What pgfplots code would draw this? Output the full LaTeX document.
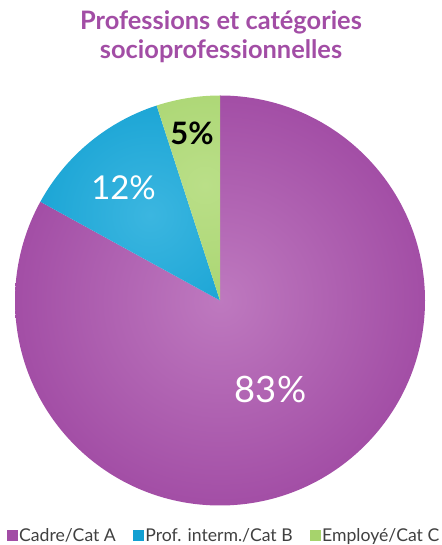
\documentclass[border=0pt]{standalone}
\usepackage{pgfplots}
\pgfplotsset{compat=1.18}
\usepackage{fontspec}
\setmainfont{Lato}
\definecolor{pur}{HTML}{A24DA5}
\definecolor{purL}{HTML}{BE79BF}
\definecolor{blu}{HTML}{12A0D2}
\definecolor{bluL}{HTML}{3BB6E0}
\definecolor{grn}{HTML}{A6D36C}
\definecolor{grnL}{HTML}{BADF88}
\definecolor{legtext}{HTML}{404040}
% values (percent)
\def\vA{83}\def\vB{12}\def\vC{5}
\pgfmathsetmacro{\dA}{-3.6*\vA}
\pgfmathsetmacro{\dB}{-3.6*\vB}
\pgfmathsetmacro{\dC}{-3.6*\vC}
\pgfmathsetmacro{\sA}{90}
\pgfmathsetmacro{\sB}{90+\dA+360}
\pgfmathsetmacro{\sC}{\sB+\dB}
\begin{document}
\begin{tikzpicture}
\begin{axis}[hide axis, scale only axis, width=442bp, height=545bp,
  xmin=0, xmax=442, ymin=0, ymax=545, clip=false,
  legend columns=3,
  legend style={at={(axis cs:223.5,9)}, anchor=center, draw=none, fill=none,
    font=\fontsize{17.7}{19}\selectfont, text=legtext, inner sep=0pt,
    nodes={inner sep=1bp},
    /tikz/every even column/.append style={column sep=16bp},
    /tikz/every odd column/.append style={column sep=1bp}},
]
\addlegendimage{legend image code/.code={\fill[pur] (0bp,-4.5bp) rectangle (10bp,5.5bp);}}
\addlegendentry{Cadre/Cat A}
\addlegendimage{legend image code/.code={\fill[blu] (0bp,-4.5bp) rectangle (10bp,5.5bp);}}
\addlegendentry{Prof. interm./Cat B}
\addlegendimage{legend image code/.code={\fill[grn] (0bp,-4.5bp) rectangle (10bp,5.5bp);}}
\addlegendentry{Employé/Cat C}

% Cadre / Cat A
\begin{scope}
\clip (axis cs:220,244.5) -- ++(\sA:205bp) arc[start angle=\sA, delta angle=\dA, radius=205bp] -- cycle;
\shade[inner color=purL, outer color=pur] (axis cs:220,244.5) circle[radius=210bp];
\end{scope}
% Prof. interm. / Cat B
\begin{scope}
\clip (axis cs:220,244.5) -- ++(\sB:205bp) arc[start angle=\sB, delta angle=\dB, radius=205bp] -- cycle;
\shade[inner color=bluL, outer color=blu] (axis cs:150,330) circle[radius=150bp];
\end{scope}
% Employé / Cat C
\begin{scope}
\clip (axis cs:220,244.5) -- ++(\sC:205bp) arc[start angle=\sC, delta angle=\dC, radius=205bp] -- cycle;
\shade[inner color=grnL, outer color=grn] (axis cs:205,360) circle[radius=150bp];
\end{scope}

\node[text=white, font=\fontsize{36.5}{36}\selectfont] at (axis cs:270.5,156) {83\%};
\node[text=white, font=\fontsize{33}{33}\selectfont] at (axis cs:123.5,357) {12\%};
\node[text=black, font=\bfseries\fontsize{31}{31}\selectfont] at (axis cs:192,412) {5\%};

\node[text=pur, font=\bfseries\fontsize{25.5}{29}\selectfont, align=center] at (axis cs:221,508) {Professions et catégories\\socioprofessionnelles};
\end{axis}
\pgfresetboundingbox
\path (current axis.south west) rectangle (current axis.north east);
\end{tikzpicture}
\end{document}
